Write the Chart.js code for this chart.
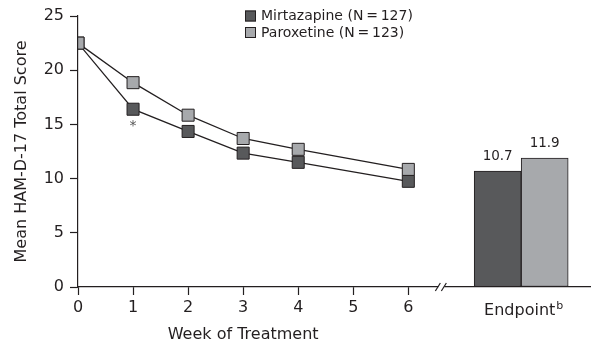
<!DOCTYPE html>
<html>
<head>
<meta charset="utf-8">
<script src="https://cdn.jsdelivr.net/npm/chart.js@4.4.0/dist/chart.umd.min.js"></script>
<style>
  html, body { margin: 0; padding: 0; background: #fff; }
  #wrap { width: 595px; height: 345px; }
</style>
</head>
<body>
<div id="wrap"><canvas id="hamdChart" width="595" height="345"></canvas></div>
<script>
// values
const weeks = [0, 1, 2, 3, 4, 6];
const mirtazapine = [22.5, 16.4, 14.35, 12.35, 11.5, 9.75];
const paroxetine = [22.5, 18.85, 15.85, 13.7, 12.7, 10.85];
const endpointScores = [10.7, 11.9];
const seriesLabels = ['Mirtazapine (N\u2009=\u2009127)', 'Paroxetine (N\u2009=\u2009123)'];
const weekTicks = [0, 1, 2, 3, 4, 5, 6];
const endpointLabel = 'Endpoint';
const endpointSup = 'b';
const endpointPos = 8.05;   // where the endpoint group sits on the week axis
const breakPos = 6.6;       // axis break marks
const xMax = 9.3;
const significantWeek = 1;  // asterisk under mirtazapine

const INK = '#231f20';
const DARK = '#58595b';
const LIGHT = '#a7a9ac';
const FONT = '"DejaVu Sans", sans-serif';

Chart.defaults.font.family = FONT;
Chart.defaults.color = INK;

// extra texts and marks the figure has
const extras = {
    id: 'extras',
    afterDraw(c) {
        const ctx = c.ctx;
        const xs = c.scales.x;
        const ys = c.scales.y;
        ctx.save();

        // values over the endpoint bars
        ctx.fillStyle = INK;
        ctx.font = '13.5px ' + FONT;
        ctx.textAlign = 'center';
        ctx.textBaseline = 'alphabetic';
        [2, 3].forEach((di, k) => {
            const bar = c.getDatasetMeta(di).data[0];
            ctx.fillText(endpointScores[k].toFixed(1), bar.x, bar.y - 11);
        });

        // asterisk under week 1 mirtazapine
        const pt = c.getDatasetMeta(0).data[weeks.indexOf(significantWeek)];
        ctx.fillStyle = '#555';
        ctx.font = '14px ' + FONT;
        ctx.fillText('*', pt.x, pt.y + 21);

        // endpoint label with superscript
        ctx.fillStyle = INK;
        ctx.textAlign = 'left';
        ctx.font = '16px ' + FONT;
        const w1 = ctx.measureText(endpointLabel).width;
        ctx.font = '11px ' + FONT;
        const w2 = ctx.measureText(endpointSup).width;
        const cx = xs.getPixelForValue(endpointPos) + 2;
        const sx = cx - (w1 + w2) / 2;
        ctx.font = '16px ' + FONT;
        ctx.fillText(endpointLabel, sx, ys.bottom + 28);
        ctx.font = '11px ' + FONT;
        ctx.fillText(endpointSup, sx + w1 + 1, ys.bottom + 22);

        // x title centred under the weeks
        ctx.textAlign = 'center';
        ctx.font = '16px ' + FONT;
        ctx.fillText('Week of Treatment', xs.getPixelForValue(3), ys.bottom + 51.5);

        // axis break
        const bx = xs.getPixelForValue(breakPos);
        const by = ys.bottom;
        ctx.fillStyle = '#fff';
        ctx.fillRect(bx - 3, by - 2, 6, 4);
        ctx.strokeStyle = INK;
        ctx.lineWidth = 1.2;
        ctx.beginPath();
        ctx.moveTo(bx - 6, by + 4); ctx.lineTo(bx - 1, by - 4);
        ctx.moveTo(bx + 0, by + 4); ctx.lineTo(bx + 5, by - 4);
        ctx.stroke();

        // legend
        const fills = [DARK, LIGHT];
        ctx.font = '14px ' + FONT;
        ctx.textAlign = 'left';
        seriesLabels.forEach((lab, i) => {
            const top = 10.5 + i * 16.5;
            ctx.fillStyle = fills[i];
            ctx.fillRect(245, top, 11, 11);
            ctx.strokeStyle = INK;
            ctx.lineWidth = 1;
            ctx.strokeRect(245.5, top + 0.5, 10, 10);
            ctx.fillStyle = INK;
            ctx.fillText(lab, 261, top + 9.5);
        });

        ctx.restore();
    }
};

const lineStyle = {
    type: 'line',
    borderColor: INK,
    borderWidth: 1.3,
    pointStyle: 'rect',
    pointRadius: 8.5,
    pointBorderColor: INK,
    pointBorderWidth: 1,
    tension: 0
};

const chart = new Chart(document.getElementById('hamdChart'), {
    type: 'line',
    data: {
        datasets: [{
            ...lineStyle,
            label: seriesLabels[0],
            data: weeks.map((w, i) => ({ x: w, y: mirtazapine[i] })),
            pointBackgroundColor: DARK,
            order: 2
        }, {
            ...lineStyle,
            label: seriesLabels[1],
            data: weeks.map((w, i) => ({ x: w, y: paroxetine[i] })),
            pointBackgroundColor: LIGHT,
            order: 1
        }, {
            type: 'bar',
            label: seriesLabels[0],
            data: [{ x: endpointPos, y: endpointScores[0] }],
            backgroundColor: DARK,
            borderColor: INK,
            borderWidth: 1,
            borderSkipped: false,
            barThickness: 47,
            order: 3
        }, {
            type: 'bar',
            label: seriesLabels[1],
            data: [{ x: endpointPos, y: endpointScores[1] }],
            backgroundColor: LIGHT,
            borderColor: INK,
            borderWidth: 1,
            borderSkipped: false,
            barThickness: 47,
            order: 3
        }]
    },
    options: {
        responsive: false,
        animation: false,
        layout: { autoPadding: false, padding: { top: 16, right: 5, left: 0, bottom: 0 } },
        plugins: {
            legend: { display: false },
            tooltip: { enabled: false }
        },
        scales: {
            x: {
                type: 'linear',
                min: 0,
                max: xMax,
                offset: false,
                afterBuildTicks: s => { s.ticks = weekTicks.map(v => ({ value: v })); },
                afterFit: s => { s.height = 58; },
                grid: { display: true, offset: false, drawOnChartArea: false, drawTicks: true, tickLength: 8, tickWidth: 1.2, color: INK, z: 1 },
                border: { display: true, color: INK, width: 1.2, z: 2 },
                ticks: { padding: 3, color: INK, font: { size: 16 }, maxRotation: 0 }
            },
            y: {
                min: 0,
                max: 25,
                afterFit: s => { s.width = 78; },
                grid: { display: true, drawOnChartArea: false, drawTicks: true, tickLength: 8, tickWidth: 1.2, color: INK, z: 1 },
                border: { display: true, color: INK, width: 1.2, z: 2 },
                ticks: { stepSize: 5, padding: 6, color: INK, font: { size: 16 } },
                title: {
                    display: true,
                    text: 'Mean HAM-D-17 Total Score',
                    color: INK,
                    font: { size: 16 },
                    padding: { top: 12, bottom: 0 }
                }
            }
        }
    },
    plugins: [extras]
});
</script>
</body>
</html>
